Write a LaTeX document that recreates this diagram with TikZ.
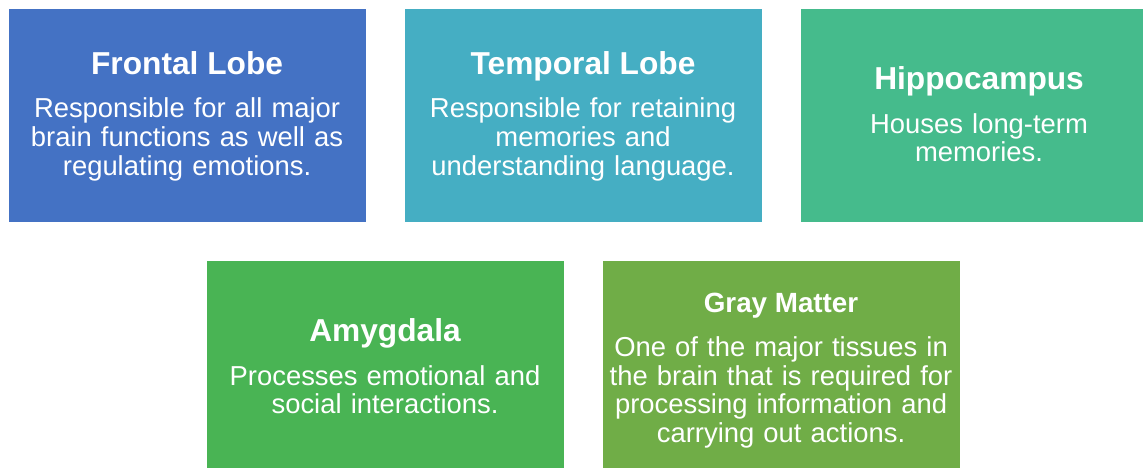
\documentclass[tikz,border=0pt]{standalone}
\usepackage{fontspec}
\setmainfont{Liberation Sans}
\definecolor{cFrontal}{HTML}{4472C4}
\definecolor{cTemporal}{HTML}{45AEC3}
\definecolor{cHippo}{HTML}{45BB8C}
\definecolor{cAmyg}{HTML}{49B454}
\definecolor{cGray}{HTML}{70AD47}
\tikzset{
  card/.style={draw=white, line width=0.6pt, anchor=north west, inner sep=0pt,
    minimum width=357.5pt, minimum height=213pt},
  cardtitle/.style={text=white, anchor=base, inner sep=0pt,
    font=\fontsize{31.7}{36}\selectfont\bfseries},
  cardtitlesmall/.style={cardtitle, font=\fontsize{27.8}{32}\selectfont\bfseries},
  cardbody/.style={text=white, anchor=base, inner sep=0pt, text width=357pt,
    align=center, font=\fontsize{27.4}{28.6}\selectfont},
}
\begin{document}
\begin{tikzpicture}[x=1pt, y=-1pt]
  \useasboundingbox (0,0) rectangle (1143,468);
  \clip (0,0) rectangle (1143,468);

  % boxes
  \node[card, fill=cFrontal]  (frontal)  at (8,8.5)   {};
  \node[card, fill=cTemporal] (temporal) at (404,8.5) {};
  \node[card, fill=cHippo]    (hippo)    at (800,8.5) {};
  \node[card, fill=cAmyg]     (amyg)     at (206,260) {};
  \node[card, fill=cGray]     (gray)     at (602,260) {};

  % Frontal Lobe
  \node[cardtitle] (frontalT) at (frontal.center |- 0,75) {Frontal Lobe};
  \node[cardbody]  (frontalB) at (frontal.center |- 0,118)
    {Responsible for all major\\brain functions as well as\\regulating emotions.};

  % Temporal Lobe
  \node[cardtitle] (temporalT) at (temporal.center |- 0,75) {Temporal Lobe};
  \node[cardbody]  (temporalB) at (temporal.center |- 0,118)
    {Responsible for retaining\\memories and\\understanding language.};

  % Hippocampus
  \node[cardtitle] (hippoT) at (hippo.center |- 0,90) {Hippocampus};
  \node[cardbody]  (hippoB) at (hippo.center |- 0,133.3)
    {Houses long-term\\memories.};

  % Amygdala
  \node[cardtitle] (amygT) at (amyg.center |- 0,341.7) {Amygdala};
  \node[cardbody]  (amygB) at (amyg.center |- 0,385)
    {Processes emotional and\\social interactions.};

  % Gray Matter
  \node[cardtitlesmall] (grayT) at (gray.center |- 0,312.7) {Gray Matter};
  \node[cardbody]  (grayB) at (gray.center |- 0,356.7)
    {One of the major tissues in\\the brain that is required for\\processing information and\\carrying out actions.};
\end{tikzpicture}
\end{document}
